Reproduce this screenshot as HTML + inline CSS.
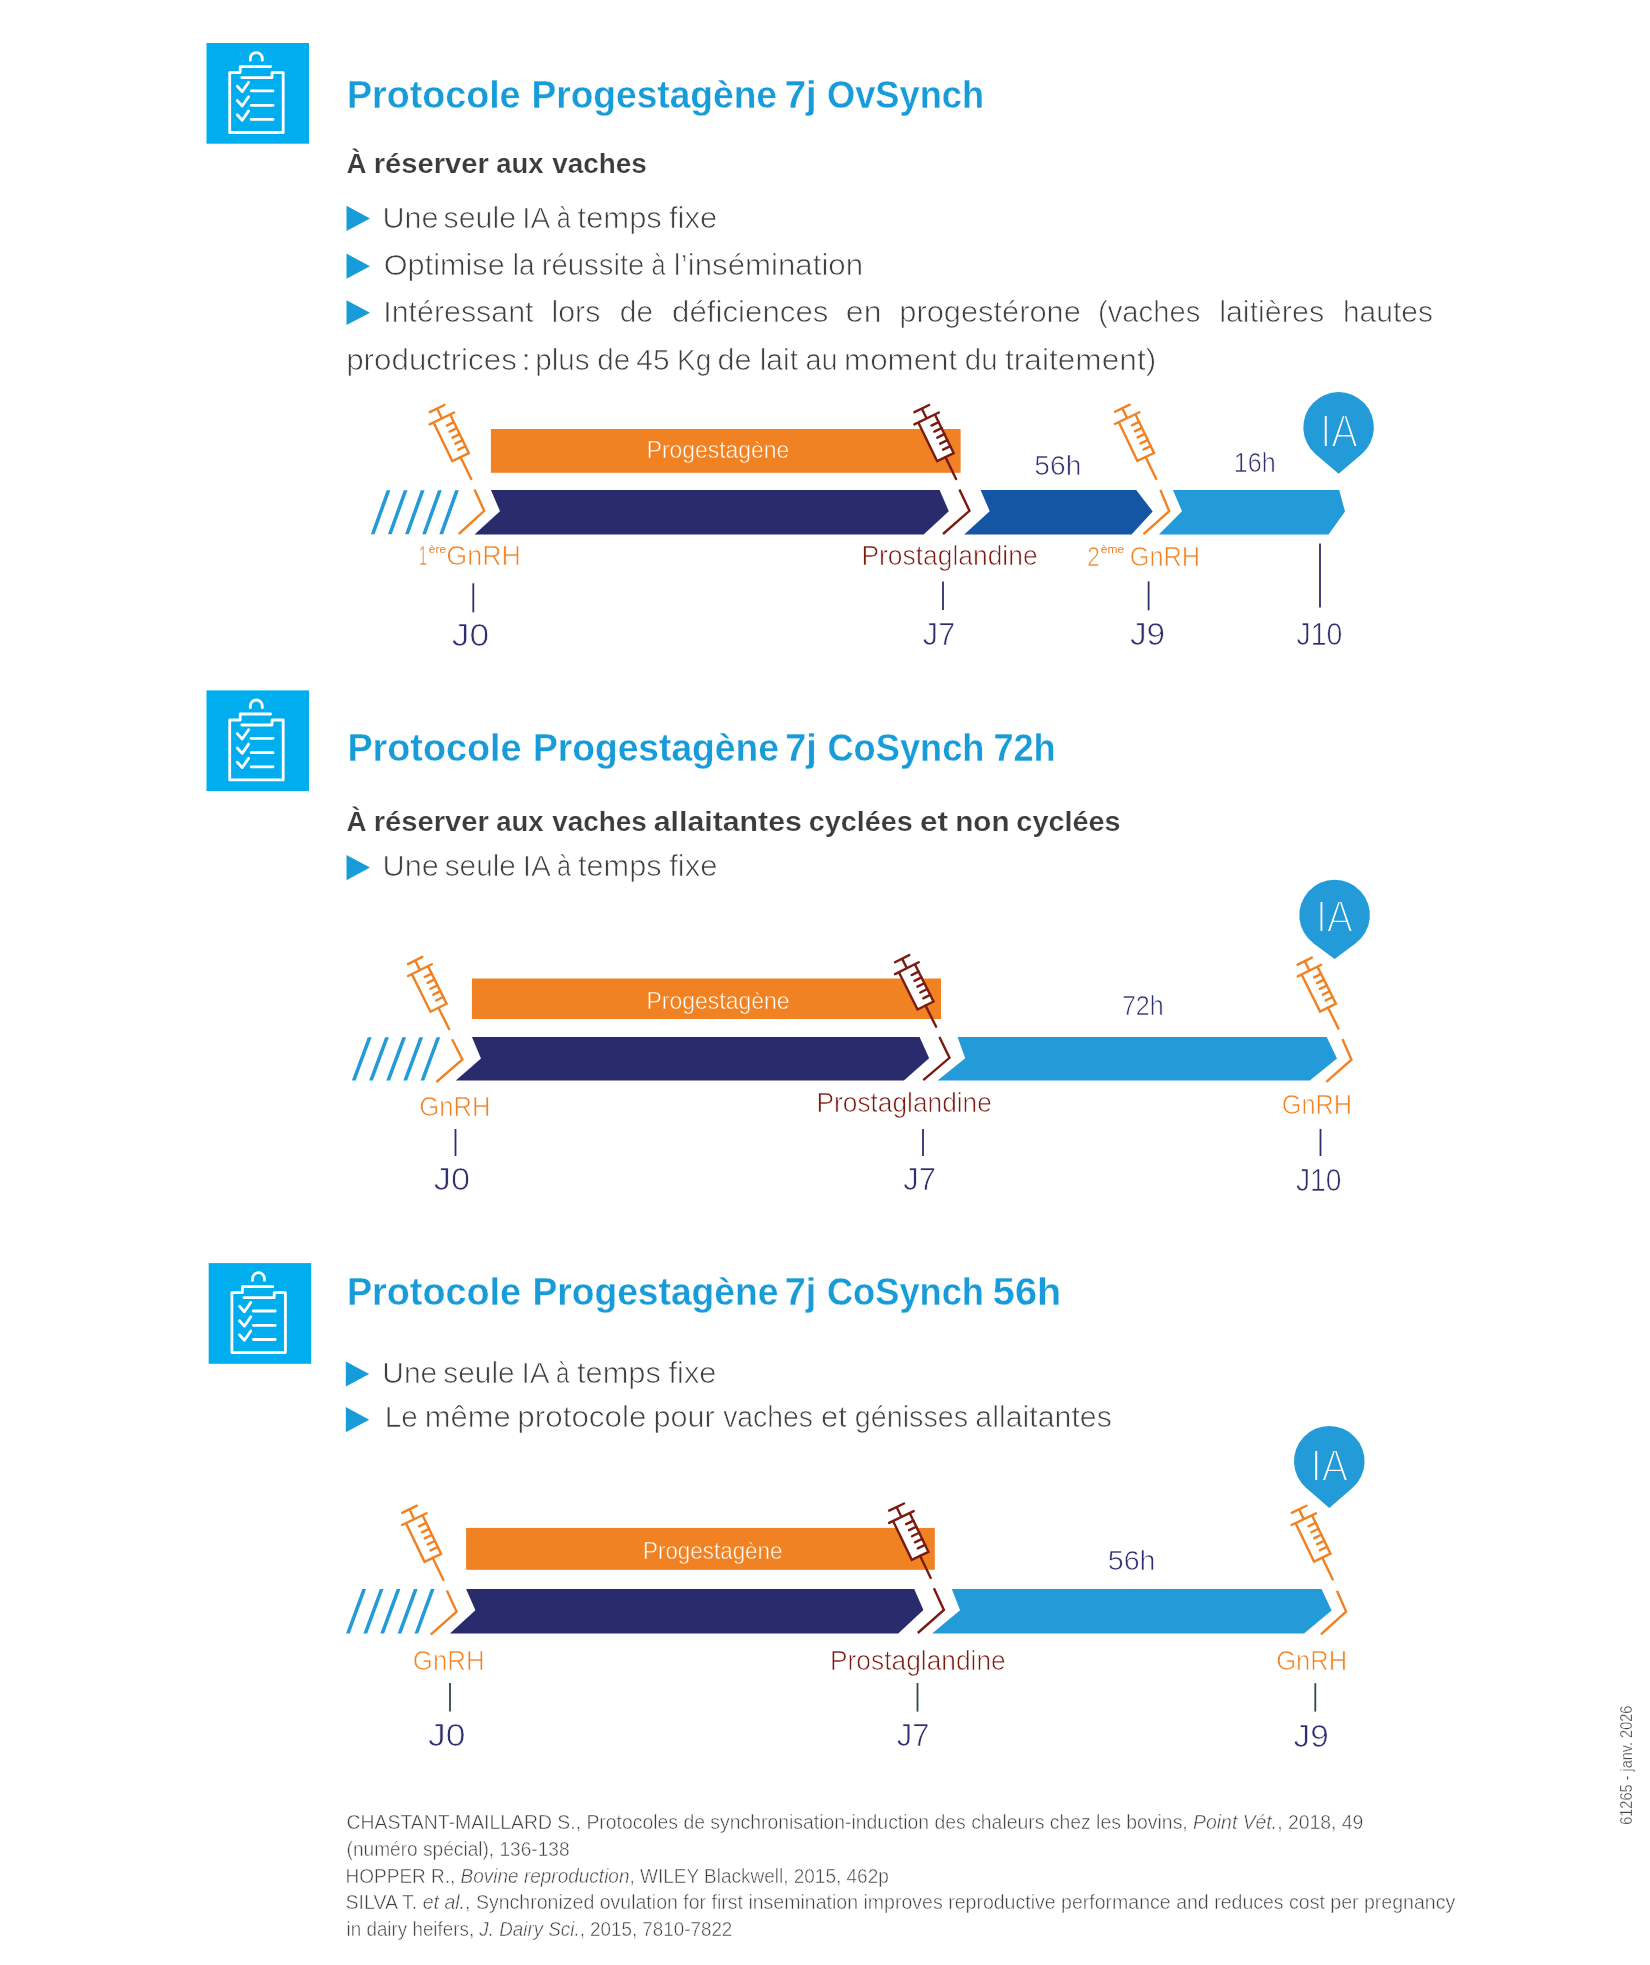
<!DOCTYPE html>
<html lang="fr">
<head>
<meta charset="utf-8">
<title>Protocoles Progestagène 7j</title>
<style>
html,body{margin:0;padding:0;background:#fff;}
body{width:1650px;height:1965px;overflow:hidden;font-family:"Liberation Sans", sans-serif;}
svg{display:block;font-family:"Liberation Sans", sans-serif;will-change:transform;filter:opacity(1);}
text{white-space:pre;}
</style>
</head>
<body>
<svg width="1650" height="1965" viewBox="0 0 1650 1965">
<rect width="1650" height="1965" fill="#fff"/>
<g transform="translate(206.5,43.0) scale(1.0000,1.0000) translate(-206.5,-43)">
<rect x="206.5" y="43" width="102.5" height="100.7" fill="#00aeef"/>
<g fill="none" stroke="#fff" stroke-width="2.8" stroke-linecap="round" stroke-linejoin="round">
<path d="M250.3,60.3 V58.6 A6,6 0 0 1 262.3,58.6 V60.3"/>
<path d="M270.6,66.6 H240.2 V72.6 H229.7 V132.5 H283.2 V72.6 H272 V77.6 H241.8"/>
<path d="M237.3,86.2 L242.2,91.6 L248.6,82.3"/>
<path d="M251.2,90.9 H273"/>
<path d="M237.3,100.6 L242.2,106.0 L248.6,96.7"/>
<path d="M251.2,105.3 H273"/>
<path d="M237.3,114.8 L242.2,120.2 L248.6,110.9"/>
<path d="M251.2,119.4 H273"/>
</g></g>
<text x="346.97" y="107.75" font-size="38.5" fill="#189cd9" stroke="#fff" stroke-width="0.3" textLength="173.56" lengthAdjust="spacingAndGlyphs" font-weight="bold">Protocole</text>
<text x="531.47" y="107.75" font-size="38.5" fill="#189cd9" stroke="#fff" stroke-width="0.3" textLength="245.54" lengthAdjust="spacingAndGlyphs" font-weight="bold">Progestagène</text>
<text x="784.63" y="107.75" font-size="38.5" fill="#189cd9" stroke="#fff" stroke-width="0.3" textLength="31.93" lengthAdjust="spacingAndGlyphs" font-weight="bold">7j</text>
<text x="826.97" y="107.75" font-size="38.5" fill="#189cd9" stroke="#fff" stroke-width="0.3" textLength="157.11" lengthAdjust="spacingAndGlyphs" font-weight="bold">OvSynch</text>
<text x="346.48" y="173.00" font-size="27" fill="#3c3c3e" stroke="#fff" stroke-width="0.2" textLength="20.03" lengthAdjust="spacingAndGlyphs" font-weight="bold">À</text>
<text x="373.75" y="173.00" font-size="27" fill="#3c3c3e" stroke="#fff" stroke-width="0.2" textLength="115.06" lengthAdjust="spacingAndGlyphs" font-weight="bold">réserver</text>
<text x="496.19" y="173.00" font-size="27" fill="#3c3c3e" stroke="#fff" stroke-width="0.2" textLength="47.22" lengthAdjust="spacingAndGlyphs" font-weight="bold">aux</text>
<text x="552.19" y="173.00" font-size="27" fill="#3c3c3e" stroke="#fff" stroke-width="0.2" textLength="94.64" lengthAdjust="spacingAndGlyphs" font-weight="bold">vaches</text>
<polygon points="346.5,205.8 370.0,218.4 346.5,231.0" fill="#189cd9"/>
<text x="382.41" y="227.65" font-size="29.5" fill="#3e3e40" stroke="#fff" stroke-width="0.7" textLength="56.13" lengthAdjust="spacingAndGlyphs">Une</text>
<text x="443.59" y="227.65" font-size="29.5" fill="#3e3e40" stroke="#fff" stroke-width="0.7" textLength="72.53" lengthAdjust="spacingAndGlyphs">seule</text>
<text x="522.20" y="227.65" font-size="29.5" fill="#3e3e40" stroke="#fff" stroke-width="0.7" textLength="28.07" lengthAdjust="spacingAndGlyphs">IA</text>
<text x="556.76" y="227.65" font-size="29.5" fill="#3e3e40" stroke="#fff" stroke-width="0.7" textLength="14.03" lengthAdjust="spacingAndGlyphs">à</text>
<text x="577.57" y="227.65" font-size="29.5" fill="#3e3e40" stroke="#fff" stroke-width="0.7" textLength="84.27" lengthAdjust="spacingAndGlyphs">temps</text>
<text x="668.91" y="227.65" font-size="29.5" fill="#3e3e40" stroke="#fff" stroke-width="0.7" textLength="48.38" lengthAdjust="spacingAndGlyphs">fixe</text>
<polygon points="346.5,253.6 370.0,266.2 346.5,278.8" fill="#189cd9"/>
<text x="383.76" y="274.95" font-size="29.5" fill="#3e3e40" stroke="#fff" stroke-width="0.7" textLength="120.96" lengthAdjust="spacingAndGlyphs">Optimise</text>
<text x="512.79" y="274.95" font-size="29.5" fill="#3e3e40" stroke="#fff" stroke-width="0.7" textLength="21.76" lengthAdjust="spacingAndGlyphs">la</text>
<text x="541.71" y="274.95" font-size="29.5" fill="#3e3e40" stroke="#fff" stroke-width="0.7" textLength="102.66" lengthAdjust="spacingAndGlyphs">réussite</text>
<text x="651.51" y="274.95" font-size="29.5" fill="#3e3e40" stroke="#fff" stroke-width="0.7" textLength="14.12" lengthAdjust="spacingAndGlyphs">à</text>
<text x="673.84" y="274.95" font-size="29.5" fill="#3e3e40" stroke="#fff" stroke-width="0.7" textLength="189.28" lengthAdjust="spacingAndGlyphs">l’insémination</text>
<polygon points="346.5,300.3 370.0,312.7 346.5,325.1" fill="#189cd9"/>
<text x="383.29" y="322.35" font-size="29.5" fill="#3e3e40" stroke="#fff" stroke-width="0.7" textLength="150.19" lengthAdjust="spacingAndGlyphs">Intéressant</text>
<text x="551.44" y="322.35" font-size="29.5" fill="#3e3e40" stroke="#fff" stroke-width="0.7" textLength="48.88" lengthAdjust="spacingAndGlyphs">lors</text>
<text x="619.83" y="322.35" font-size="29.5" fill="#3e3e40" stroke="#fff" stroke-width="0.7" textLength="33.27" lengthAdjust="spacingAndGlyphs">de</text>
<text x="672.08" y="322.35" font-size="29.5" fill="#3e3e40" stroke="#fff" stroke-width="0.7" textLength="156.41" lengthAdjust="spacingAndGlyphs">déficiences</text>
<text x="845.89" y="322.35" font-size="29.5" fill="#3e3e40" stroke="#fff" stroke-width="0.7" textLength="35.72" lengthAdjust="spacingAndGlyphs">en</text>
<text x="899.28" y="322.35" font-size="29.5" fill="#3e3e40" stroke="#fff" stroke-width="0.7" textLength="181.64" lengthAdjust="spacingAndGlyphs">progestérone</text>
<text x="1098.02" y="322.35" font-size="29.5" fill="#3e3e40" stroke="#fff" stroke-width="0.7" textLength="102.31" lengthAdjust="spacingAndGlyphs">(vaches</text>
<text x="1219.16" y="322.35" font-size="29.5" fill="#3e3e40" stroke="#fff" stroke-width="0.7" textLength="104.97" lengthAdjust="spacingAndGlyphs">laitières</text>
<text x="1342.95" y="322.35" font-size="29.5" fill="#3e3e40" stroke="#fff" stroke-width="0.7" textLength="90.08" lengthAdjust="spacingAndGlyphs">hautes</text>
<text x="346.18" y="370.35" font-size="29.5" fill="#3e3e40" stroke="#fff" stroke-width="0.7" textLength="170.68" lengthAdjust="spacingAndGlyphs">productrices</text>
<text x="520.78" y="370.35" font-size="29.5" fill="#3e3e40" stroke="#fff" stroke-width="0.7" textLength="10.67" lengthAdjust="spacingAndGlyphs">:</text>
<text x="535.21" y="370.35" font-size="29.5" fill="#3e3e40" stroke="#fff" stroke-width="0.7" textLength="54.46" lengthAdjust="spacingAndGlyphs">plus</text>
<text x="597.31" y="370.35" font-size="29.5" fill="#3e3e40" stroke="#fff" stroke-width="0.7" textLength="33.08" lengthAdjust="spacingAndGlyphs">de</text>
<text x="636.33" y="370.35" font-size="29.5" fill="#3e3e40" stroke="#fff" stroke-width="0.7" textLength="33.21" lengthAdjust="spacingAndGlyphs">45</text>
<text x="677.02" y="370.35" font-size="29.5" fill="#3e3e40" stroke="#fff" stroke-width="0.7" textLength="34.19" lengthAdjust="spacingAndGlyphs">Kg</text>
<text x="717.50" y="370.35" font-size="29.5" fill="#3e3e40" stroke="#fff" stroke-width="0.7" textLength="34.18" lengthAdjust="spacingAndGlyphs">de</text>
<text x="759.66" y="370.35" font-size="29.5" fill="#3e3e40" stroke="#fff" stroke-width="0.7" textLength="38.50" lengthAdjust="spacingAndGlyphs">lait</text>
<text x="805.40" y="370.35" font-size="29.5" fill="#3e3e40" stroke="#fff" stroke-width="0.7" textLength="32.18" lengthAdjust="spacingAndGlyphs">au</text>
<text x="844.14" y="370.35" font-size="29.5" fill="#3e3e40" stroke="#fff" stroke-width="0.7" textLength="113.09" lengthAdjust="spacingAndGlyphs">moment</text>
<text x="964.75" y="370.35" font-size="29.5" fill="#3e3e40" stroke="#fff" stroke-width="0.7" textLength="32.90" lengthAdjust="spacingAndGlyphs">du</text>
<text x="1004.98" y="370.35" font-size="29.5" fill="#3e3e40" stroke="#fff" stroke-width="0.7" textLength="151.30" lengthAdjust="spacingAndGlyphs">traitement)</text>
<rect x="490.9" y="429" width="469.7" height="43.8" fill="#f08223"/>
<text x="646.64" y="458.35" font-size="24" fill="#fff" stroke="#f08223" stroke-width="0.5" textLength="142.58" lengthAdjust="spacingAndGlyphs">Progestagène</text>
<polygon points="386.6,490.2 390.4,490.2 374.6,534.3 370.8,534.3" fill="#239bd8"/>
<polygon points="403.8,490.2 407.5,490.2 391.7,534.3 387.9,534.3" fill="#239bd8"/>
<polygon points="420.8,490.2 424.6,490.2 408.8,534.3 405.0,534.3" fill="#239bd8"/>
<polygon points="438.0,490.2 441.8,490.2 425.9,534.3 422.2,534.3" fill="#239bd8"/>
<polygon points="455.1,490.2 458.9,490.2 443.1,534.3 439.3,534.3" fill="#239bd8"/>
<polygon points="490.9,490.0 939.6,490.0 948.8,511.2 923.6,534.5 474.5,534.5 500.0,511.2" fill="#292b6c"/>
<polygon points="980.6,490.0 1136.2,490.0 1152.7,511.4 1131.5,534.5 964.2,534.5 989.7,511.2" fill="#1455a4"/>
<polygon points="1172.9,490.0 1339.2,490.0 1345.0,511.4 1328.5,534.5 1158.9,534.5 1182.0,511.2" fill="#239bd8"/>
<g transform="translate(437.10,408.55) rotate(-25.80) scale(0.9995)" fill="none" stroke="#f08223" stroke-width="2.40" stroke-linecap="round" stroke-linejoin="miter">
<path d="M-9.2,11 V54 H9.2 V11" fill="none" stroke-linecap="butt"/>
<path d="M-8.2,0 H8.2 M0,0 V11 M-13.6,11 H13.6 M0,54 V78.4"/>
<path d="M9.2,19.5 H1.2 M9.2,26.2 H1.2 M9.2,32.9 H1.2 M9.2,39.6 H1.2 M9.2,46.3 H1.2"/>
</g>
<polyline points="474.5,489.4 484.2,510.8 458.8,534.0" fill="none" stroke="#f08223" stroke-width="2.4" stroke-linejoin="miter" stroke-linecap="butt"/>
<g transform="translate(921.80,408.55) rotate(-25.93) scale(1.0006)" fill="none" stroke="#7b1a10" stroke-width="2.40" stroke-linecap="round" stroke-linejoin="miter">
<path d="M-9.2,11 V54 H9.2 V11" fill="#fff" stroke-linecap="butt"/>
<path d="M-8.2,0 H8.2 M0,0 V11 M-13.6,11 H13.6 M0,54 V78.4"/>
<path d="M9.2,19.5 H1.2 M9.2,26.2 H1.2 M9.2,32.9 H1.2 M9.2,39.6 H1.2 M9.2,46.3 H1.2"/>
</g>
<polyline points="959.4,489.4 969.5,510.8 943.0,534.0" fill="none" stroke="#7b1a10" stroke-width="2.4" stroke-linejoin="miter" stroke-linecap="butt"/>
<g transform="translate(1122.35,408.20) rotate(-25.55) scale(1.0010)" fill="none" stroke="#f08223" stroke-width="2.40" stroke-linecap="round" stroke-linejoin="miter">
<path d="M-9.2,11 V54 H9.2 V11" fill="none" stroke-linecap="butt"/>
<path d="M-8.2,0 H8.2 M0,0 V11 M-13.6,11 H13.6 M0,54 V78.4"/>
<path d="M9.2,19.5 H1.2 M9.2,26.2 H1.2 M9.2,32.9 H1.2 M9.2,39.6 H1.2 M9.2,46.3 H1.2"/>
</g>
<polyline points="1160.4,489.9 1169.2,511.2 1143.5,534.2" fill="none" stroke="#f08223" stroke-width="2.4" stroke-linejoin="miter" stroke-linecap="butt"/>
<path d="M1338.6,473.8 L1315.69,454.26 A35.3,35.3 0 1 1 1361.51,454.26 Z" fill="#239bd8"/>
<text x="1320.20" y="447.15" font-size="45.5" fill="#fff" stroke="#239bd8" stroke-width="1.9" textLength="37.50" lengthAdjust="spacingAndGlyphs">IA</text>
<text x="1034.35" y="475.05" font-size="28.5" fill="#2e2f6f" stroke="#fff" stroke-width="0.7" textLength="46.99" lengthAdjust="spacingAndGlyphs">56h</text>
<text x="1233.83" y="471.95" font-size="28.5" fill="#2e2f6f" stroke="#fff" stroke-width="0.7" textLength="42.00" lengthAdjust="spacingAndGlyphs">16h</text>
<text x="419.00" y="565.25" font-size="28" fill="#f08223" stroke="#fff" stroke-width="0.5" textLength="8.00" lengthAdjust="spacingAndGlyphs">1</text>
<text x="428.80" y="553.00" font-size="11.5" fill="#f08223" textLength="17.20" lengthAdjust="spacingAndGlyphs">ère</text>
<text x="446.24" y="565.35" font-size="28" fill="#f08223" stroke="#fff" stroke-width="0.7" textLength="74.78" lengthAdjust="spacingAndGlyphs">GnRH</text>
<text x="861.40" y="565.35" font-size="28" fill="#7b1a10" stroke="#fff" stroke-width="0.7" textLength="176.19" lengthAdjust="spacingAndGlyphs">Prostaglandine</text>
<text x="1087.20" y="565.55" font-size="28" fill="#f08223" stroke="#fff" stroke-width="0.7" textLength="12.50" lengthAdjust="spacingAndGlyphs">2</text>
<text x="1100.80" y="552.80" font-size="11.5" fill="#f08223" textLength="23.40" lengthAdjust="spacingAndGlyphs">ème</text>
<text x="1129.70" y="565.55" font-size="28" fill="#f08223" stroke="#fff" stroke-width="0.7" textLength="70.42" lengthAdjust="spacingAndGlyphs">GnRH</text>
<line x1="473.3" y1="583.3" x2="473.3" y2="612.4" stroke="#2e2f6f" stroke-width="1.8"/>
<line x1="943.0" y1="581.4" x2="943.0" y2="610.0" stroke="#2e2f6f" stroke-width="1.8"/>
<line x1="1148.6" y1="581.4" x2="1148.6" y2="610.3" stroke="#2e2f6f" stroke-width="1.8"/>
<line x1="1320.0" y1="543.5" x2="1320.0" y2="607.4" stroke="#2e2f6f" stroke-width="1.8"/>
<text x="451.86" y="645.55" font-size="32" fill="#2e2f6f" stroke="#fff" stroke-width="0.7" textLength="37.35" lengthAdjust="spacingAndGlyphs">J0</text>
<text x="922.86" y="645.35" font-size="32" fill="#2e2f6f" stroke="#fff" stroke-width="0.7" textLength="32.39" lengthAdjust="spacingAndGlyphs">J7</text>
<text x="1129.91" y="644.95" font-size="32" fill="#2e2f6f" stroke="#fff" stroke-width="0.7" textLength="35.26" lengthAdjust="spacingAndGlyphs">J9</text>
<text x="1296.42" y="645.35" font-size="32" fill="#2e2f6f" stroke="#fff" stroke-width="0.7" textLength="45.96" lengthAdjust="spacingAndGlyphs">J10</text>
<g transform="translate(206.5,690.4) scale(1.0000,1.0000) translate(-206.5,-43)">
<rect x="206.5" y="43" width="102.5" height="100.7" fill="#00aeef"/>
<g fill="none" stroke="#fff" stroke-width="2.8" stroke-linecap="round" stroke-linejoin="round">
<path d="M250.3,60.3 V58.6 A6,6 0 0 1 262.3,58.6 V60.3"/>
<path d="M270.6,66.6 H240.2 V72.6 H229.7 V132.5 H283.2 V72.6 H272 V77.6 H241.8"/>
<path d="M237.3,86.2 L242.2,91.6 L248.6,82.3"/>
<path d="M251.2,90.9 H273"/>
<path d="M237.3,100.6 L242.2,106.0 L248.6,96.7"/>
<path d="M251.2,105.3 H273"/>
<path d="M237.3,114.8 L242.2,120.2 L248.6,110.9"/>
<path d="M251.2,119.4 H273"/>
</g></g>
<text x="347.43" y="761.25" font-size="38.5" fill="#189cd9" stroke="#fff" stroke-width="0.3" textLength="174.13" lengthAdjust="spacingAndGlyphs" font-weight="bold">Protocole</text>
<text x="532.90" y="761.25" font-size="38.5" fill="#189cd9" stroke="#fff" stroke-width="0.3" textLength="246.05" lengthAdjust="spacingAndGlyphs" font-weight="bold">Progestagène</text>
<text x="785.31" y="761.25" font-size="38.5" fill="#189cd9" stroke="#fff" stroke-width="0.3" textLength="31.56" lengthAdjust="spacingAndGlyphs" font-weight="bold">7j</text>
<text x="827.43" y="761.25" font-size="38.5" fill="#189cd9" stroke="#fff" stroke-width="0.3" textLength="157.07" lengthAdjust="spacingAndGlyphs" font-weight="bold">CoSynch</text>
<text x="993.40" y="761.25" font-size="38.5" fill="#189cd9" stroke="#fff" stroke-width="0.3" textLength="62.26" lengthAdjust="spacingAndGlyphs" font-weight="bold">72h</text>
<text x="346.48" y="831.30" font-size="27" fill="#3c3c3e" stroke="#fff" stroke-width="0.2" textLength="20.03" lengthAdjust="spacingAndGlyphs" font-weight="bold">À</text>
<text x="373.75" y="831.30" font-size="27" fill="#3c3c3e" stroke="#fff" stroke-width="0.2" textLength="115.06" lengthAdjust="spacingAndGlyphs" font-weight="bold">réserver</text>
<text x="496.19" y="831.30" font-size="27" fill="#3c3c3e" stroke="#fff" stroke-width="0.2" textLength="47.22" lengthAdjust="spacingAndGlyphs" font-weight="bold">aux</text>
<text x="552.19" y="831.30" font-size="27" fill="#3c3c3e" stroke="#fff" stroke-width="0.2" textLength="94.64" lengthAdjust="spacingAndGlyphs" font-weight="bold">vaches</text>
<text x="653.78" y="831.30" font-size="27" fill="#3c3c3e" stroke="#fff" stroke-width="0.2" textLength="148.04" lengthAdjust="spacingAndGlyphs" font-weight="bold">allaitantes</text>
<text x="808.77" y="831.30" font-size="27" fill="#3c3c3e" stroke="#fff" stroke-width="0.2" textLength="103.87" lengthAdjust="spacingAndGlyphs" font-weight="bold">cyclées</text>
<text x="919.99" y="831.30" font-size="27" fill="#3c3c3e" stroke="#fff" stroke-width="0.2" textLength="27.93" lengthAdjust="spacingAndGlyphs" font-weight="bold">et</text>
<text x="955.25" y="831.30" font-size="27" fill="#3c3c3e" stroke="#fff" stroke-width="0.2" textLength="54.31" lengthAdjust="spacingAndGlyphs" font-weight="bold">non</text>
<text x="1016.38" y="831.30" font-size="27" fill="#3c3c3e" stroke="#fff" stroke-width="0.2" textLength="104.03" lengthAdjust="spacingAndGlyphs" font-weight="bold">cyclées</text>
<polygon points="346.5,855.0 370.0,867.6 346.5,880.2" fill="#189cd9"/>
<text x="382.56" y="876.35" font-size="29.5" fill="#3e3e40" stroke="#fff" stroke-width="0.7" textLength="56.32" lengthAdjust="spacingAndGlyphs">Une</text>
<text x="444.74" y="876.35" font-size="29.5" fill="#3e3e40" stroke="#fff" stroke-width="0.7" textLength="71.20" lengthAdjust="spacingAndGlyphs">seule</text>
<text x="522.76" y="876.35" font-size="29.5" fill="#3e3e40" stroke="#fff" stroke-width="0.7" textLength="28.20" lengthAdjust="spacingAndGlyphs">IA</text>
<text x="556.89" y="876.35" font-size="29.5" fill="#3e3e40" stroke="#fff" stroke-width="0.7" textLength="14.03" lengthAdjust="spacingAndGlyphs">à</text>
<text x="578.06" y="876.35" font-size="29.5" fill="#3e3e40" stroke="#fff" stroke-width="0.7" textLength="83.48" lengthAdjust="spacingAndGlyphs">temps</text>
<text x="669.17" y="876.35" font-size="29.5" fill="#3e3e40" stroke="#fff" stroke-width="0.7" textLength="48.31" lengthAdjust="spacingAndGlyphs">fixe</text>
<rect x="471.9" y="978.5" width="469.1" height="40.5" fill="#f08223"/>
<text x="646.53" y="1008.75" font-size="24" fill="#fff" stroke="#f08223" stroke-width="0.5" textLength="142.98" lengthAdjust="spacingAndGlyphs">Progestagène</text>
<polygon points="367.8,1037.3 371.6,1037.3 355.6,1080.6 351.8,1080.6" fill="#239bd8"/>
<polygon points="385.1,1037.3 388.9,1037.3 372.9,1080.6 369.1,1080.6" fill="#239bd8"/>
<polygon points="402.3,1037.3 406.1,1037.3 390.1,1080.6 386.3,1080.6" fill="#239bd8"/>
<polygon points="419.3,1037.3 423.1,1037.3 407.1,1080.6 403.3,1080.6" fill="#239bd8"/>
<polygon points="436.5,1037.3 440.2,1037.3 424.2,1080.6 420.5,1080.6" fill="#239bd8"/>
<polygon points="471.9,1037.0 919.6,1037.0 929.1,1058.2 903.9,1080.6 455.8,1080.6 481.0,1058.5" fill="#292b6c"/>
<polygon points="957.6,1037.0 1326.7,1037.0 1337.0,1058.5 1309.8,1080.6 937.6,1080.6 965.2,1058.2" fill="#239bd8"/>
<g transform="translate(415.15,960.50) rotate(-26.33) scale(0.9763)" fill="none" stroke="#f08223" stroke-width="2.46" stroke-linecap="round" stroke-linejoin="miter">
<path d="M-9.2,11 V54 H9.2 V11" fill="none" stroke-linecap="butt"/>
<path d="M-8.2,0 H8.2 M0,0 V11 M-13.6,11 H13.6 M0,54 V78.4"/>
<path d="M9.2,19.5 H1.2 M9.2,26.2 H1.2 M9.2,32.9 H1.2 M9.2,39.6 H1.2 M9.2,46.3 H1.2"/>
</g>
<polyline points="452.1,1039.2 462.4,1059.4 436.4,1082.0" fill="none" stroke="#f08223" stroke-width="2.4" stroke-linejoin="miter" stroke-linecap="butt"/>
<g transform="translate(902.10,958.65) rotate(-26.55) scale(0.9703)" fill="none" stroke="#7b1a10" stroke-width="2.47" stroke-linecap="round" stroke-linejoin="miter">
<path d="M-9.2,11 V54 H9.2 V11" fill="#fff" stroke-linecap="butt"/>
<path d="M-8.2,0 H8.2 M0,0 V11 M-13.6,11 H13.6 M0,54 V78.4"/>
<path d="M9.2,19.5 H1.2 M9.2,26.2 H1.2 M9.2,32.9 H1.2 M9.2,39.6 H1.2 M9.2,46.3 H1.2"/>
</g>
<polyline points="939.4,1037.0 949.5,1057.8 923.3,1080.2" fill="none" stroke="#7b1a10" stroke-width="2.4" stroke-linejoin="miter" stroke-linecap="butt"/>
<g transform="translate(1304.75,961.10) rotate(-26.57) scale(0.9626)" fill="none" stroke="#f08223" stroke-width="2.49" stroke-linecap="round" stroke-linejoin="miter">
<path d="M-9.2,11 V54 H9.2 V11" fill="none" stroke-linecap="butt"/>
<path d="M-8.2,0 H8.2 M0,0 V11 M-13.6,11 H13.6 M0,54 V78.4"/>
<path d="M9.2,19.5 H1.2 M9.2,26.2 H1.2 M9.2,32.9 H1.2 M9.2,39.6 H1.2 M9.2,46.3 H1.2"/>
</g>
<polyline points="1342.4,1039.1 1351.5,1059.7 1326.3,1081.8" fill="none" stroke="#f08223" stroke-width="2.4" stroke-linejoin="miter" stroke-linecap="butt"/>
<path d="M1334.6,958.9 L1313.70,943.55 A35.3,35.3 0 1 1 1355.50,943.55 Z" fill="#239bd8"/>
<text x="1315.90" y="932.35" font-size="43.5" fill="#fff" stroke="#239bd8" stroke-width="1.9" textLength="37.00" lengthAdjust="spacingAndGlyphs">IA</text>
<text x="1121.88" y="1015.35" font-size="28.5" fill="#2e2f6f" stroke="#fff" stroke-width="0.7" textLength="41.90" lengthAdjust="spacingAndGlyphs">72h</text>
<text x="419.32" y="1115.85" font-size="28" fill="#f08223" stroke="#fff" stroke-width="0.7" textLength="71.20" lengthAdjust="spacingAndGlyphs">GnRH</text>
<text x="816.56" y="1112.15" font-size="28" fill="#7b1a10" stroke="#fff" stroke-width="0.7" textLength="175.30" lengthAdjust="spacingAndGlyphs">Prostaglandine</text>
<text x="1281.77" y="1113.65" font-size="28" fill="#f08223" stroke="#fff" stroke-width="0.7" textLength="70.41" lengthAdjust="spacingAndGlyphs">GnRH</text>
<line x1="455.5" y1="1129.0" x2="455.5" y2="1156.0" stroke="#2e2f6f" stroke-width="1.8"/>
<line x1="923.0" y1="1129.0" x2="923.0" y2="1156.0" stroke="#2e2f6f" stroke-width="1.8"/>
<line x1="1320.5" y1="1128.9" x2="1320.5" y2="1156.0" stroke="#2e2f6f" stroke-width="1.8"/>
<text x="433.76" y="1189.85" font-size="32" fill="#2e2f6f" stroke="#fff" stroke-width="0.7" textLength="36.24" lengthAdjust="spacingAndGlyphs">J0</text>
<text x="903.16" y="1189.85" font-size="32" fill="#2e2f6f" stroke="#fff" stroke-width="0.7" textLength="32.69" lengthAdjust="spacingAndGlyphs">J7</text>
<text x="1295.89" y="1190.55" font-size="32" fill="#2e2f6f" stroke="#fff" stroke-width="0.7" textLength="45.49" lengthAdjust="spacingAndGlyphs">J10</text>
<g transform="translate(208.7,1263.1) scale(1.0000,1.0000) translate(-206.5,-43)">
<rect x="206.5" y="43" width="102.5" height="100.7" fill="#00aeef"/>
<g fill="none" stroke="#fff" stroke-width="2.8" stroke-linecap="round" stroke-linejoin="round">
<path d="M250.3,60.3 V58.6 A6,6 0 0 1 262.3,58.6 V60.3"/>
<path d="M270.6,66.6 H240.2 V72.6 H229.7 V132.5 H283.2 V72.6 H272 V77.6 H241.8"/>
<path d="M237.3,86.2 L242.2,91.6 L248.6,82.3"/>
<path d="M251.2,90.9 H273"/>
<path d="M237.3,100.6 L242.2,106.0 L248.6,96.7"/>
<path d="M251.2,105.3 H273"/>
<path d="M237.3,114.8 L242.2,120.2 L248.6,110.9"/>
<path d="M251.2,119.4 H273"/>
</g></g>
<text x="346.92" y="1305.05" font-size="38.5" fill="#189cd9" stroke="#fff" stroke-width="0.3" textLength="174.13" lengthAdjust="spacingAndGlyphs" font-weight="bold">Protocole</text>
<text x="532.42" y="1305.05" font-size="38.5" fill="#189cd9" stroke="#fff" stroke-width="0.3" textLength="246.04" lengthAdjust="spacingAndGlyphs" font-weight="bold">Progestagène</text>
<text x="784.74" y="1305.05" font-size="38.5" fill="#189cd9" stroke="#fff" stroke-width="0.3" textLength="31.56" lengthAdjust="spacingAndGlyphs" font-weight="bold">7j</text>
<text x="826.91" y="1305.05" font-size="38.5" fill="#189cd9" stroke="#fff" stroke-width="0.3" textLength="157.08" lengthAdjust="spacingAndGlyphs" font-weight="bold">CoSynch</text>
<text x="992.86" y="1305.05" font-size="38.5" fill="#189cd9" stroke="#fff" stroke-width="0.3" textLength="68.23" lengthAdjust="spacingAndGlyphs" font-weight="bold">56h</text>
<polygon points="345.8,1361.4 369.2,1373.9 345.8,1386.4" fill="#189cd9"/>
<text x="382.18" y="1382.85" font-size="29.5" fill="#3e3e40" stroke="#fff" stroke-width="0.7" textLength="55.14" lengthAdjust="spacingAndGlyphs">Une</text>
<text x="443.31" y="1382.85" font-size="29.5" fill="#3e3e40" stroke="#fff" stroke-width="0.7" textLength="71.37" lengthAdjust="spacingAndGlyphs">seule</text>
<text x="521.64" y="1382.85" font-size="29.5" fill="#3e3e40" stroke="#fff" stroke-width="0.7" textLength="27.98" lengthAdjust="spacingAndGlyphs">IA</text>
<text x="556.08" y="1382.85" font-size="29.5" fill="#3e3e40" stroke="#fff" stroke-width="0.7" textLength="13.44" lengthAdjust="spacingAndGlyphs">à</text>
<text x="576.98" y="1382.85" font-size="29.5" fill="#3e3e40" stroke="#fff" stroke-width="0.7" textLength="83.86" lengthAdjust="spacingAndGlyphs">temps</text>
<text x="668.54" y="1382.85" font-size="29.5" fill="#3e3e40" stroke="#fff" stroke-width="0.7" textLength="47.94" lengthAdjust="spacingAndGlyphs">fixe</text>
<polygon points="345.8,1407.1 369.2,1419.7 345.8,1432.2" fill="#189cd9"/>
<text x="384.76" y="1427.35" font-size="29.5" fill="#3e3e40" stroke="#fff" stroke-width="0.7" textLength="33.04" lengthAdjust="spacingAndGlyphs">Le</text>
<text x="424.66" y="1427.35" font-size="29.5" fill="#3e3e40" stroke="#fff" stroke-width="0.7" textLength="86.21" lengthAdjust="spacingAndGlyphs">même</text>
<text x="517.32" y="1427.35" font-size="29.5" fill="#3e3e40" stroke="#fff" stroke-width="0.7" textLength="129.15" lengthAdjust="spacingAndGlyphs">protocole</text>
<text x="653.48" y="1427.35" font-size="29.5" fill="#3e3e40" stroke="#fff" stroke-width="0.7" textLength="61.19" lengthAdjust="spacingAndGlyphs">pour</text>
<text x="723.17" y="1427.35" font-size="29.5" fill="#3e3e40" stroke="#fff" stroke-width="0.7" textLength="89.86" lengthAdjust="spacingAndGlyphs">vaches</text>
<text x="821.06" y="1427.35" font-size="29.5" fill="#3e3e40" stroke="#fff" stroke-width="0.7" textLength="25.83" lengthAdjust="spacingAndGlyphs">et</text>
<text x="854.76" y="1427.35" font-size="29.5" fill="#3e3e40" stroke="#fff" stroke-width="0.7" textLength="113.45" lengthAdjust="spacingAndGlyphs">génisses</text>
<text x="975.35" y="1427.35" font-size="29.5" fill="#3e3e40" stroke="#fff" stroke-width="0.7" textLength="136.49" lengthAdjust="spacingAndGlyphs">allaitantes</text>
<rect x="466.1" y="1527.9" width="468.7" height="41.9" fill="#f08223"/>
<text x="643.00" y="1558.75" font-size="24" fill="#fff" stroke="#f08223" stroke-width="0.5" textLength="139.50" lengthAdjust="spacingAndGlyphs">Progestagène</text>
<polygon points="362.3,1589.0 366.1,1589.0 349.8,1633.4 346.0,1633.4" fill="#239bd8"/>
<polygon points="379.8,1589.0 383.5,1589.0 367.2,1633.4 363.4,1633.4" fill="#239bd8"/>
<polygon points="396.6,1589.0 400.4,1589.0 384.1,1633.4 380.3,1633.4" fill="#239bd8"/>
<polygon points="413.9,1589.0 417.7,1589.0 401.4,1633.4 397.6,1633.4" fill="#239bd8"/>
<polygon points="430.8,1589.0 434.6,1589.0 418.2,1633.4 414.5,1633.4" fill="#239bd8"/>
<polygon points="466.1,1589.0 914.2,1589.0 923.4,1610.0 898.2,1633.6 449.9,1633.6 475.4,1610.2" fill="#292b6c"/>
<polygon points="951.8,1589.0 1321.5,1589.0 1331.6,1610.5 1304.0,1633.6 932.1,1633.6 960.0,1610.2" fill="#239bd8"/>
<g transform="translate(409.50,1509.25) rotate(-25.63) scale(0.9995)" fill="none" stroke="#f08223" stroke-width="2.40" stroke-linecap="round" stroke-linejoin="miter">
<path d="M-9.2,11 V54 H9.2 V11" fill="none" stroke-linecap="butt"/>
<path d="M-8.2,0 H8.2 M0,0 V11 M-13.6,11 H13.6 M0,54 V78.4"/>
<path d="M9.2,19.5 H1.2 M9.2,26.2 H1.2 M9.2,32.9 H1.2 M9.2,39.6 H1.2 M9.2,46.3 H1.2"/>
</g>
<polyline points="446.9,1590.4 456.6,1611.6 430.7,1634.6" fill="none" stroke="#f08223" stroke-width="2.4" stroke-linejoin="miter" stroke-linecap="butt"/>
<g transform="translate(896.60,1507.05) rotate(-25.70) scale(1.0029)" fill="none" stroke="#7b1a10" stroke-width="2.39" stroke-linecap="round" stroke-linejoin="miter">
<path d="M-9.2,11 V54 H9.2 V11" fill="#fff" stroke-linecap="butt"/>
<path d="M-8.2,0 H8.2 M0,0 V11 M-13.6,11 H13.6 M0,54 V78.4"/>
<path d="M9.2,19.5 H1.2 M9.2,26.2 H1.2 M9.2,32.9 H1.2 M9.2,39.6 H1.2 M9.2,46.3 H1.2"/>
</g>
<polyline points="933.9,1588.2 943.9,1610.0 917.8,1633.0" fill="none" stroke="#7b1a10" stroke-width="2.4" stroke-linejoin="miter" stroke-linecap="butt"/>
<g transform="translate(1299.05,1509.30) rotate(-25.64) scale(0.9918)" fill="none" stroke="#f08223" stroke-width="2.42" stroke-linecap="round" stroke-linejoin="miter">
<path d="M-9.2,11 V54 H9.2 V11" fill="none" stroke-linecap="butt"/>
<path d="M-8.2,0 H8.2 M0,0 V11 M-13.6,11 H13.6 M0,54 V78.4"/>
<path d="M9.2,19.5 H1.2 M9.2,26.2 H1.2 M9.2,32.9 H1.2 M9.2,39.6 H1.2 M9.2,46.3 H1.2"/>
</g>
<polyline points="1337.0,1590.7 1346.1,1611.6 1320.9,1634.3" fill="none" stroke="#f08223" stroke-width="2.4" stroke-linejoin="miter" stroke-linecap="butt"/>
<path d="M1329.3,1507.9 L1306.26,1488.04 A35.3,35.3 0 1 1 1352.34,1488.04 Z" fill="#239bd8"/>
<text x="1310.80" y="1480.55" font-size="44.5" fill="#fff" stroke="#239bd8" stroke-width="1.9" textLength="37.20" lengthAdjust="spacingAndGlyphs">IA</text>
<text x="1107.71" y="1570.15" font-size="28.5" fill="#2e2f6f" stroke="#fff" stroke-width="0.7" textLength="47.85" lengthAdjust="spacingAndGlyphs">56h</text>
<text x="412.87" y="1669.85" font-size="28" fill="#f08223" stroke="#fff" stroke-width="0.7" textLength="71.79" lengthAdjust="spacingAndGlyphs">GnRH</text>
<text x="830.01" y="1669.65" font-size="28" fill="#7b1a10" stroke="#fff" stroke-width="0.7" textLength="175.74" lengthAdjust="spacingAndGlyphs">Prostaglandine</text>
<text x="1276.21" y="1669.65" font-size="28" fill="#f08223" stroke="#fff" stroke-width="0.7" textLength="70.97" lengthAdjust="spacingAndGlyphs">GnRH</text>
<line x1="450.0" y1="1683.0" x2="450.0" y2="1711.6" stroke="#2c4a40" stroke-width="1.8"/>
<line x1="917.5" y1="1683.0" x2="917.5" y2="1711.6" stroke="#2c4a40" stroke-width="1.8"/>
<line x1="1315.3" y1="1683.2" x2="1315.3" y2="1711.6" stroke="#2c4a40" stroke-width="1.8"/>
<text x="428.11" y="1746.45" font-size="32" fill="#2e2f6f" stroke="#fff" stroke-width="0.7" textLength="37.48" lengthAdjust="spacingAndGlyphs">J0</text>
<text x="896.78" y="1746.45" font-size="32" fill="#2e2f6f" stroke="#fff" stroke-width="0.7" textLength="32.68" lengthAdjust="spacingAndGlyphs">J7</text>
<text x="1293.43" y="1746.55" font-size="32" fill="#2e2f6f" stroke="#fff" stroke-width="0.7" textLength="35.32" lengthAdjust="spacingAndGlyphs">J9</text>
<text x="346.60" y="1829.45" font-size="20.5" fill="#414144" stroke="#fff" stroke-width="0.5" textLength="1016.80" lengthAdjust="spacingAndGlyphs">CHASTANT-MAILLARD S., Protocoles de synchronisation-induction des chaleurs chez les bovins, <tspan font-style="italic">Point Vét.</tspan>, 2018, 49</text>
<text x="346.59" y="1856.25" font-size="20.5" fill="#414144" stroke="#fff" stroke-width="0.5" textLength="223.02" lengthAdjust="spacingAndGlyphs">(numéro spécial), 136-138</text>
<text x="345.59" y="1882.95" font-size="20.5" fill="#414144" stroke="#fff" stroke-width="0.5" textLength="543.21" lengthAdjust="spacingAndGlyphs">HOPPER R., <tspan font-style="italic">Bovine reproduction</tspan>, WILEY Blackwell, 2015, 462p</text>
<text x="345.60" y="1909.45" font-size="20.5" fill="#414144" stroke="#fff" stroke-width="0.5" textLength="1109.60" lengthAdjust="spacingAndGlyphs">SILVA T. <tspan font-style="italic">et al.</tspan>, Synchronized ovulation for first insemination improves reproductive performance and reduces cost per pregnancy</text>
<text x="346.60" y="1935.95" font-size="20.5" fill="#414144" stroke="#fff" stroke-width="0.5" textLength="385.72" lengthAdjust="spacingAndGlyphs">in dairy heifers, <tspan font-style="italic">J. Dairy Sci.</tspan>, 2015, 7810-7822</text>
<text transform="translate(1632.2,1824.8) rotate(-90)" font-size="15.8" fill="#414144" stroke="#fff" stroke-width="0.3" textLength="119.2" lengthAdjust="spacingAndGlyphs">61265 - janv. 2026</text>
</svg>
</body>
</html>
